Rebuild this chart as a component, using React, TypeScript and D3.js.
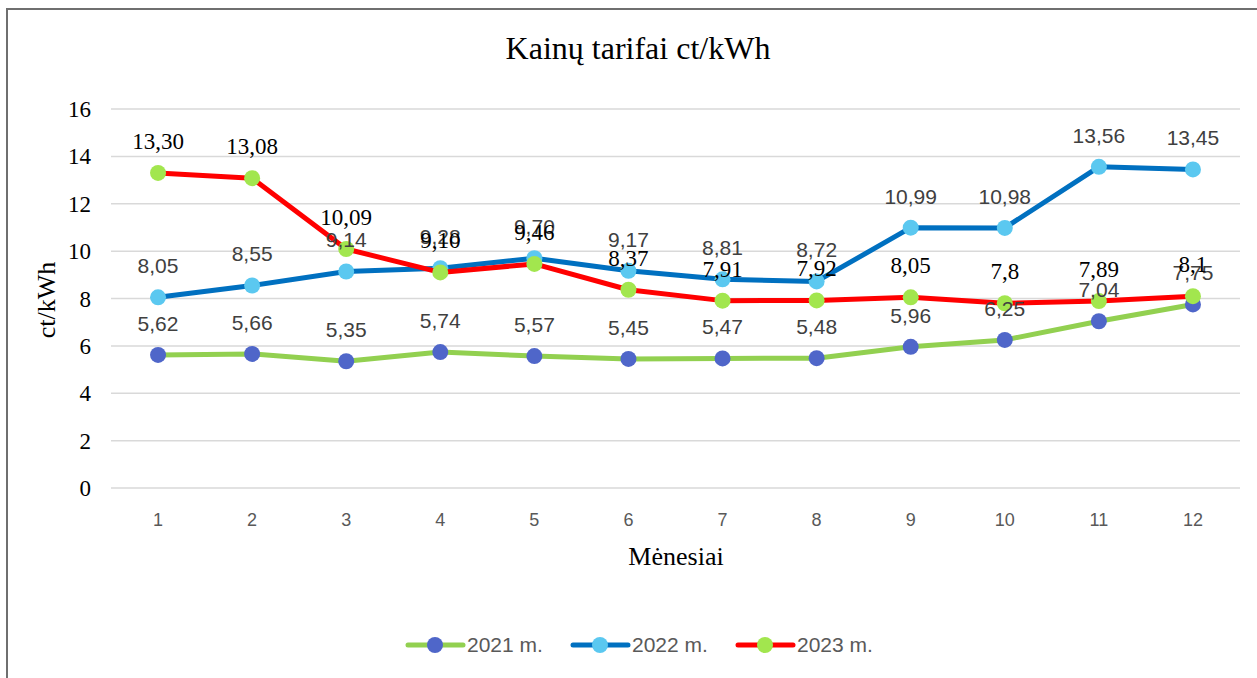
import React from 'react';
import * as d3 from 'd3';

const months = [1, 2, 3, 4, 5, 6, 7, 8, 9, 10, 11, 12];
const series2021 = [5.62, 5.66, 5.35, 5.74, 5.57, 5.45, 5.47, 5.48, 5.96, 6.25, 7.04, 7.75];
const series2022 = [8.05, 8.55, 9.14, 9.28, 9.70, 9.17, 8.81, 8.72, 10.99, 10.98, 13.56, 13.45];
const series2023 = [13.30, 13.08, 10.09, 9.10, 9.46, 8.37, 7.91, 7.92, 8.05, 7.8, 7.89, 8.1];
const labels2021 = ['5,62', '5,66', '5,35', '5,74', '5,57', '5,45', '5,47', '5,48', '5,96', '6,25', '7,04', '7,75'];
const labels2022 = ['8,05', '8,55', '9,14', '9,28', '9,70', '9,17', '8,81', '8,72', '10,99', '10,98', '13,56', '13,45'];
const labels2023 = ['13,30', '13,08', '10,09', '9,10', '9,46', '8,37', '7,91', '7,92', '8,05', '7,8', '7,89', '8,1'];
const yTicks = [0, 2, 4, 6, 8, 10, 12, 14, 16];

const serif = '"Liberation Serif", "Times New Roman", serif';
const sans = '"Liberation Sans", Arial, sans-serif';

const seriesList = [
  { name: '2021 m.', values: series2021, labels: labels2021, line: '#92d050', marker: '#4f66c9', text: '#404040', font: sans, size: 21 },
  { name: '2022 m.', values: series2022, labels: labels2022, line: '#0070c0', marker: '#5bc8f0', text: '#404040', font: sans, size: 21 },
  { name: '2023 m.', values: series2023, labels: labels2023, line: '#ff0000', marker: '#a2e64e', text: '#000000', font: serif, size: 23 },
];

const width = 1257;
const height = 678;
const left = 111;
const right = 1240;
const top = 109;
const bottom = 488;

export default function App() {
  const x = d3.scaleBand<number>().domain(months).range([left, right]);
  const y = d3.scaleLinear().domain([0, 16]).range([bottom, top]);
  const cx = (m: number) => (x(m) as number) + x.bandwidth() / 2;

  const line = d3.line<number>()
    .x((_, i) => cx(months[i]))
    .y(d => y(d));

  return (
    <div style={{ position: 'fixed', left: 0, top: 0 }}>
      <svg width={width} height={height} style={{ display: 'block', background: '#fff' }}>
        <rect x={7} y={9} width={width + 20} height={height + 20} fill="#fff" stroke="#6f6f6f" strokeWidth={2} />

        <text x={638} y={59} textAnchor="middle" fontFamily={serif} fontSize={32} fill="#000">
          Kainų tarifai ct/kWh
        </text>

        {yTicks.map(t => (
          <g key={t}>
            <line x1={left} x2={right} y1={y(t)} y2={y(t)} stroke="#d9d9d9" strokeWidth={1.5} />
            <text x={91} y={y(t) + 8} textAnchor="end" fontFamily={serif} fontSize={23} fill="#000">{t}</text>
          </g>
        ))}

        {months.map(m => (
          <text key={m} x={cx(m)} y={526} textAnchor="middle" fontFamily={sans} fontSize={18} fill="#595959">{m}</text>
        ))}

        <text transform="translate(55,300) rotate(-90)" textAnchor="middle" fontFamily={serif} fontSize={26} fill="#000">ct/kWh</text>
        <text x={676} y={565} textAnchor="middle" fontFamily={serif} fontSize={26} fill="#000">Mėnesiai</text>

        {seriesList.map(s => (
          <g key={s.name}>
            <path d={line(s.values) || ''} fill="none" stroke={s.line} strokeWidth={5} strokeLinejoin="round" strokeLinecap="round" />
            {s.values.map((v, i) => (
              <circle key={i} cx={cx(months[i])} cy={y(v)} r={8} fill={s.marker} />
            ))}
          </g>
        ))}

        {seriesList.map(s => (
          <g key={s.name + '-labels'}>
            {s.values.map((v, i) => (
              <text key={i} x={cx(months[i])} y={y(v) - 24} textAnchor="middle" fontFamily={s.font} fontSize={s.size} fill={s.text}>
                {s.labels[i]}
              </text>
            ))}
          </g>
        ))}

        {seriesList.map((s, i) => {
          const lx = 408 + i * 165;
          return (
            <g key={s.name + '-legend'}>
              <line x1={lx} x2={lx + 55} y1={645} y2={645} stroke={s.line} strokeWidth={5} strokeLinecap="round" />
              <circle cx={lx + 27} cy={645} r={8} fill={s.marker} />
              <text x={lx + 59} y={652} fontFamily={sans} fontSize={21} fill="#595959">{s.name}</text>
            </g>
          );
        })}
      </svg>
    </div>
  );
}
